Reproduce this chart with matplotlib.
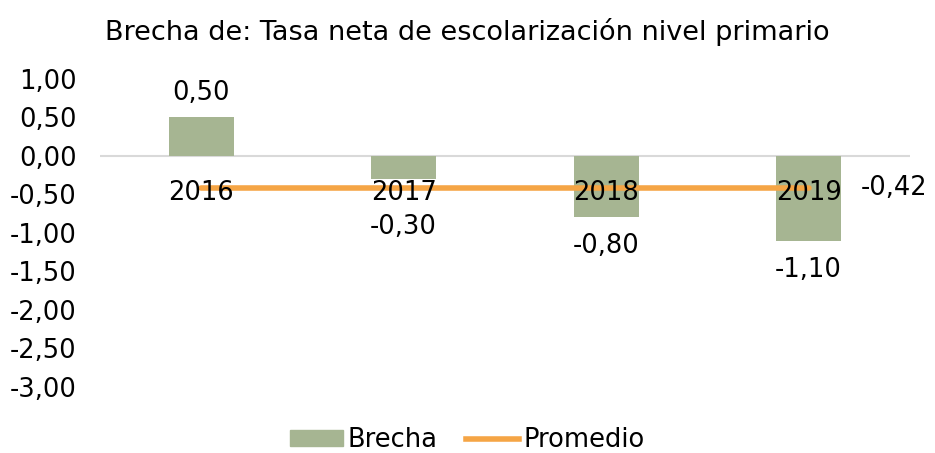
import matplotlib.pyplot as plt
import numpy as np
from matplotlib.ticker import FuncFormatter
from matplotlib.patches import Patch
from matplotlib.lines import Line2D

years = ['2016', '2017', '2018', '2019']
brecha = [0.50, -0.30, -0.80, -1.10]
promedio = [-0.42, -0.42, -0.42, -0.42]
y_ticks = [1.0, 0.5, 0.0, -0.5, -1.0, -1.5, -2.0, -2.5, -3.0]

bar_color = '#a6b592'
line_color = '#f5a545'
fs = 18.5

def fmt(v):
    return f"{v:.2f}".replace('.', ',')

fig = plt.figure(figsize=(9.35, 4.53), dpi=100)
ax = fig.add_axes([0.107, 0.146, 0.866, 0.68])

x = np.arange(len(years))
ax.bar(x, brecha, width=0.32, color=bar_color, zorder=2)
ax.plot(x, promedio, color=line_color, lw=4, zorder=3, solid_capstyle='round')

# year labels drawn on top of everything, just under the zero line
for xi, yr in zip(x, years):
    ax.annotate(yr, (xi, 0), xytext=(0, -37), textcoords='offset pixels',
                ha='center', va='center', fontsize=fs, zorder=6)

for xi, v in zip(x, brecha):
    if v >= 0:
        ax.annotate(fmt(v), (xi, v), xytext=(0, 24), textcoords='offset pixels',
                    ha='center', va='center', fontsize=fs)
    else:
        ax.annotate(fmt(v), (xi, min(v, -0.55)), xytext=(0, -29), textcoords='offset pixels',
                    ha='center', va='center', fontsize=fs)
ax.text(x[-1] + 0.26, promedio[-1], fmt(promedio[-1]), ha='left', va='center', fontsize=fs)

ax.set_xlim(-0.5, len(years) - 0.5)
ax.set_ylim(-3.0, 1.0)
ax.set_yticks(y_ticks)
ax.yaxis.set_major_formatter(FuncFormatter(lambda v, p: fmt(v)))
ax.tick_params(axis='y', length=0, labelsize=fs, pad=17)
ax.set_xticks([])

ax.axhline(0, color='#d9d9d9', lw=1.5, zorder=1)
for s in ['top', 'right', 'left', 'bottom']:
    ax.spines[s].set_visible(False)

fig.text(0.5, 0.93, 'Brecha de: Tasa neta de escolarización nivel primario',
         ha='center', va='center', fontsize=19.5)

handles = [Patch(color=bar_color, label='Brecha'),
           Line2D([], [], color=line_color, lw=4, label='Promedio')]
fig.legend(handles=handles, loc='center', bbox_to_anchor=(0.5, 0.028), ncol=2, frameon=False,
           fontsize=fs, handlelength=2.05, handleheight=0.6, columnspacing=1.1, handletextpad=0.2)

fig.savefig('out.png', dpi=100, facecolor='white')
